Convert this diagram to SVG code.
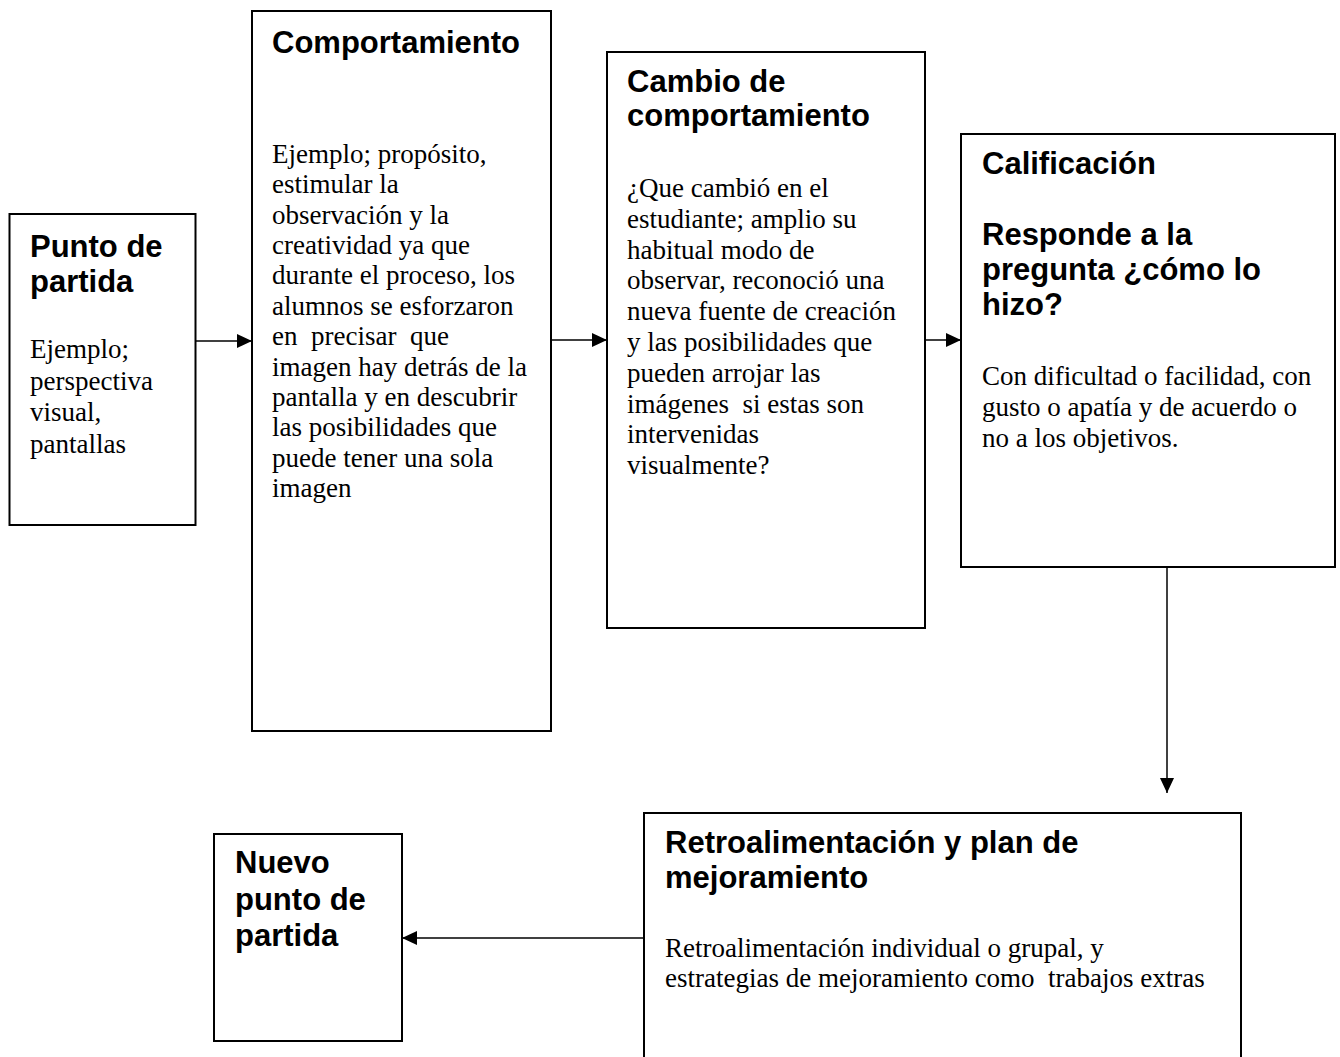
<svg xmlns="http://www.w3.org/2000/svg" width="1340" height="1057" viewBox="0 0 1340 1057">
<style>
.box{fill:#fff;stroke:#000;stroke-width:2}
.h{font-family:"Liberation Sans",Arial,sans-serif;font-weight:bold;font-size:31px;fill:#000;white-space:pre}
.b{font-family:"Liberation Serif","Times New Roman",serif;font-size:27px;fill:#000;white-space:pre}
.c{stroke:#000;stroke-width:1.5;fill:none;marker-end:url(#ah)}
</style>
<defs>
<marker id="ah" markerUnits="userSpaceOnUse" markerWidth="16" markerHeight="14" refX="15" refY="7" orient="auto">
<path d="M0,0 L15,7 L0,14 Z" fill="#000"/>
</marker>
</defs>
<rect width="1340" height="1057" fill="#fff"/>
<g id="connectors">
<line class="c" x1="195" y1="341" x2="252" y2="341"/>
<line class="c" x1="551" y1="340" x2="607" y2="340"/>
<line class="c" x1="925" y1="340" x2="961" y2="340"/>
<line class="c" x1="1167" y1="567" x2="1167" y2="793"/>
<line class="c" x1="644" y1="938" x2="402" y2="938"/>
</g>
<g id="punto-de-partida">
<rect class="box" x="9.5" y="214" width="186" height="311"/>
<text class="h" x="30" y="257">Punto de</text>
<text class="h" x="30" y="292">partida</text>
<text class="b" x="30" y="358">Ejemplo;</text>
<text class="b" x="30" y="390">perspectiva</text>
<text class="b" x="30" y="421">visual,</text>
<text class="b" x="30" y="453">pantallas</text>
</g>
<g id="comportamiento">
<rect class="box" x="252" y="11" width="299" height="720"/>
<text class="h" x="272" y="53">Comportamiento</text>
<text class="b" x="272" y="163">Ejemplo; propósito,</text>
<text class="b" x="272" y="193.4">estimular la</text>
<text class="b" x="272" y="223.7">observación y la</text>
<text class="b" x="272" y="254.1">creatividad ya que</text>
<text class="b" x="272" y="284.4">durante el proceso, los</text>
<text class="b" x="272" y="314.8">alumnos se esforzaron</text>
<text class="b" x="272" y="345.2">en  precisar  que</text>
<text class="b" x="272" y="375.5">imagen hay detrás de la</text>
<text class="b" x="272" y="405.9">pantalla y en descubrir</text>
<text class="b" x="272" y="436.2">las posibilidades que</text>
<text class="b" x="272" y="466.6">puede tener una sola</text>
<text class="b" x="272" y="497">imagen</text>
</g>
<g id="cambio-de-comportamiento">
<rect class="box" x="607" y="52" width="318" height="576"/>
<text class="h" x="627" y="92">Cambio de</text>
<text class="h" x="627" y="126">comportamiento</text>
<text class="b" x="627" y="197">¿Que cambió en el</text>
<text class="b" x="627" y="227.8">estudiante; amplio su</text>
<text class="b" x="627" y="258.6">habitual modo de</text>
<text class="b" x="627" y="289.4">observar, reconoció una</text>
<text class="b" x="627" y="320.2">nueva fuente de creación</text>
<text class="b" x="627" y="351">y las posibilidades que</text>
<text class="b" x="627" y="381.8">pueden arrojar las</text>
<text class="b" x="627" y="412.6">imágenes  si estas son</text>
<text class="b" x="627" y="443.4">intervenidas</text>
<text class="b" x="627" y="474.2">visualmente?</text>
</g>
<g id="calificacion">
<rect class="box" x="961" y="134" width="374" height="433"/>
<text class="h" x="982" y="174">Calificación</text>
<text class="h" x="982" y="245">Responde a la</text>
<text class="h" x="982" y="280">pregunta ¿cómo lo</text>
<text class="h" x="982" y="315">hizo?</text>
<text class="b" x="982" y="385">Con dificultad o facilidad, con</text>
<text class="b" x="982" y="416">gusto o apatía y de acuerdo o</text>
<text class="b" x="982" y="447">no a los objetivos.</text>
</g>
<g id="retroalimentacion">
<rect class="box" x="644" y="813" width="597" height="270"/>
<text class="h" x="665" y="853">Retroalimentación y plan de</text>
<text class="h" x="665" y="888">mejoramiento</text>
<text class="b" x="665" y="957">Retroalimentación individual o grupal, y</text>
<text class="b" x="665" y="987">estrategias de mejoramiento como  trabajos extras</text>
</g>
<g id="nuevo-punto-de-partida">
<rect class="box" x="214" y="834" width="188" height="207"/>
<text class="h" x="235" y="873">Nuevo</text>
<text class="h" x="235" y="910">punto de</text>
<text class="h" x="235" y="946">partida</text>
</g>
</svg>
